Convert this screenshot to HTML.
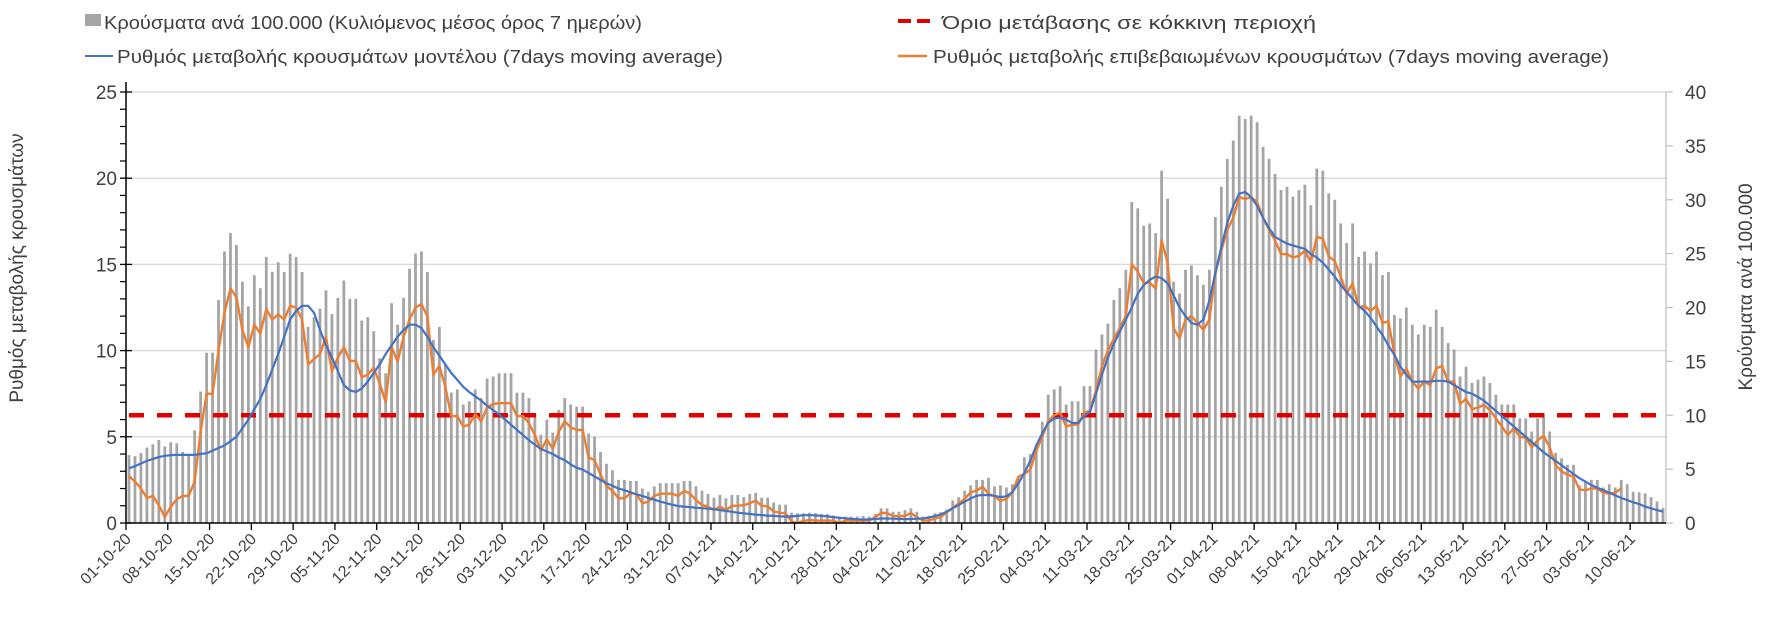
<!DOCTYPE html>
<html><head><meta charset="utf-8">
<style>
html,body{margin:0;padding:0;background:#fff;}
svg{display:block;font-family:"Liberation Sans","DejaVu Sans",sans-serif;}
</style></head>
<body>
<svg id="chart" width="1771" height="621" viewBox="0 0 1771 621" xmlns="http://www.w3.org/2000/svg">
<rect width="1771" height="621" fill="#fff"/>
<g id="grid"></g>
<g id="bars"></g>
<g id="lines"></g>
<g id="axes"></g>
<g id="legend">
  <g>
    <rect x="85" y="14" width="16" height="12" fill="#a5a5a5"/>
    <text x="104" y="29" font-size="18" fill="#404040" textLength="538" lengthAdjust="spacingAndGlyphs">Κρούσματα ανά 100.000 (Κυλιόμενος μέσος όρος 7 ημερών)</text>
  </g>
  <g>
    <line x1="898" y1="21" x2="936" y2="21" stroke="#e00000" stroke-width="4" stroke-dasharray="13,6"/>
    <text x="942" y="29" font-size="18" fill="#404040" textLength="374" lengthAdjust="spacingAndGlyphs">Όριο μετάβασης σε κόκκινη περιοχή</text>
  </g>
  <g>
    <line x1="85" y1="56" x2="113" y2="56" stroke="#4472c4" stroke-width="2"/>
    <text x="117" y="63" font-size="18" fill="#404040" textLength="606" lengthAdjust="spacingAndGlyphs">Ρυθμός μεταβολής κρουσμάτων μοντέλου (7days moving average)</text>
  </g>
  <g>
    <line x1="898" y1="56" x2="927" y2="56" stroke="#ed7d31" stroke-width="2.5"/>
    <text x="933" y="63" font-size="18" fill="#404040" textLength="676" lengthAdjust="spacingAndGlyphs">Ρυθμός μεταβολής επιβεβαιωμένων κρουσμάτων (7days moving average)</text>
  </g>
</g>
<text x="0" y="0" font-size="19" fill="#404040" text-anchor="middle" transform="translate(23,268) rotate(-90)">Ρυθμός μεταβολής κρουσμάτων</text>
<text x="0" y="0" font-size="19" fill="#404040" text-anchor="middle" transform="translate(1752,287) rotate(-90)">Κρούσματα ανά 100.000</text>
</svg>
<script>
// ---- data ----
const dateLabels = ["01-10-20","08-10-20","15-10-20","22-10-20","29-10-20","05-11-20","12-11-20","19-11-20","26-11-20","03-12-20","10-12-20","17-12-20","24-12-20","31-12-20","07-01-21","14-01-21","21-01-21","28-01-21","04-02-21","11-02-21","18-02-21","25-02-21","04-03-21","11-03-21","18-03-21","25-03-21","01-04-21","08-04-21","15-04-21","22-04-21","29-04-21","06-05-21","13-05-21","20-05-21","27-05-21","03-06-21","10-06-21"];
const leftTicks = [0,5,10,15,20,25];
const rightTicks = [0,5,10,15,20,25,30,35,40];
const threshold = 6.25;
const cases = [6.3,6.2,6.5,7.0,7.3,7.7,7.1,7.5,7.4,6.6,6.4,8.6,
12.2,15.8,15.8,20.7,25.2,26.9,25.8,22.4,20.1,23.0,21.8,24.7,23.3,24.2,23.3,25.0,24.7,23.3,18.2,19.1,19.9,21.6,19.4,20.9,22.5,
20.8,20.8,18.8,19.1,17.8,15.3,13.9,20.4,18.4,20.9,23.6,25.0,25.2,23.3,17.0,18.2,14.7,12.1,12.4,11.0,11.3,12.4,11.6,13.4,13.6,13.9,13.9,13.9,12.1,12.1,11.6,10.2,8.2,9.6,8.4,10.5,11.6,11.0,10.8,
10.8,8.3,8.0,6.6,5.5,4.9,4.0,4.0,3.9,3.9,3.2,2.9,3.4,3.7,3.7,3.7,3.7,3.9,3.9,3.4,3.0,2.7,2.35,2.6,2.3,2.6,2.6,2.4,2.7,2.8,2.35,2.35,1.9,1.7,1.7,0.96,0.9,0.9,0.96,
0.9,0.84,0.84,0.71,0.59,0.59,0.59,0.59,0.65,0.59,0.84,1.36,1.36,1.05,1.05,1.2,1.36,1.05,0.6,0.65,0.9,1.0,1.25,2.1,2.4,3.0,3.5,4.0,4.0,4.2,3.4,3.5,3.3,3.6,4.15,6.1,6.4,
7.2,9.4,11.9,12.4,12.7,11.0,11.3,11.3,12.7,12.7,16.1,17.5,18.5,20.7,21.8,23.5,29.8,29.2,27.6,27.8,26.9,
32.7,30.1,22.4,21.3,23.5,23.9,23.0,22.1,23.5,28.4,31.2,33.8,35.5,37.8,37.5,37.8,37.2,34.9,33.8,32.4,30.9,31.2,30.3,30.9,31.4,29.5,32.9,32.7,30.6,30.0,27.8,26.0,27.8,24.7,25.2,24.1,25.2,23.0,23.3,19.3,19.0,20.0,18.4,17.5,18.4,18.2,19.8,18.2,16.7,16.1,13.6,14.5,13.0,13.3,
13.6,13.0,11.9,11.0,11.0,11.0,9.7,9.7,8.5,9.7,10.2,8.5,6.5,6.0,5.4,5.4,3.5,3.8,4.0,4.0,3.3,3.6,3.3,4.0,3.6,2.9,2.85,2.75,2.4,2.0,1.4];
const confirmedRate = [2.73,2.4,2.0,1.45,1.57,1.04,0.35,0.95,1.37,1.57,1.57,2.4,
5.3,7.5,7.5,10.0,12.2,13.6,13.1,11.2,10.2,11.5,11.0,12.4,11.8,12.1,11.8,12.6,12.5,11.8,9.2,9.5,9.8,10.8,8.8,9.6,10.2,
9.4,9.4,8.45,8.6,9.0,8.1,7.0,10.2,9.36,10.8,11.8,12.5,12.7,12.0,8.6,9.1,7.9,6.2,6.2,5.6,5.7,6.3,5.9,6.7,6.9,6.95,6.95,6.95,6.2,6.2,5.8,5.1,4.2,4.85,4.3,5.3,5.9,5.55,5.4,
5.4,3.8,3.65,2.8,2.15,1.86,1.43,1.43,1.72,1.7,1.14,1.24,1.57,1.7,1.7,1.7,1.57,1.86,1.7,1.33,1.04,0.95,0.75,0.95,0.75,1.0,1.0,1.04,1.14,1.3,1.0,0.97,0.66,0.6,0.56,0.08,0.0,0.12,0.17,
0.14,0.14,0.14,0.14,0.0,0.14,0.14,0.14,0.14,0.14,0.34,0.58,0.58,0.4,0.4,0.4,0.58,0.34,0.14,0.14,0.26,0.34,0.62,0.87,1.14,1.4,1.78,1.88,2.1,1.7,1.55,1.28,1.4,1.78,2.69,2.84,3.1,
4.2,5.0,5.9,6.26,6.4,5.6,5.7,5.7,6.4,6.5,7.7,9.07,10.0,10.7,11.3,12.0,15.0,14.6,13.9,13.95,13.6,
16.4,15.1,11.3,10.7,11.8,12.0,11.6,11.2,11.8,14.5,15.8,17.0,17.7,18.9,18.8,18.9,18.6,17.7,17.0,16.4,15.6,15.6,15.4,15.5,15.8,15.1,16.6,16.5,15.45,15.2,14.3,13.3,13.9,12.5,12.6,12.3,12.6,11.6,11.7,9.8,8.5,8.97,8.2,7.8,8.2,8.0,8.97,9.1,8.2,8.2,6.9,7.2,6.6,6.7,
6.85,6.55,6.07,5.6,5.1,5.5,5.0,4.95,4.4,4.8,5.05,4.4,3.36,3.0,2.8,2.7,1.95,1.9,2.0,2.0,1.76,1.7,1.76,2.0];
const modelRate = [3.17,3.3,3.45,3.6,3.72,3.82,3.9,3.94,3.95,3.95,3.95,3.95,4.0,
4.05,4.2,4.35,4.5,4.75,5.0,5.5,6.0,6.6,7.2,8.0,8.9,9.8,10.8,11.8,12.3,12.6,12.6,12.2,11.2,10.3,9.6,8.8,8.0,
7.7,7.6,7.8,8.2,8.7,9.2,9.8,10.3,10.8,11.2,11.5,11.5,11.3,10.8,10.2,9.7,9.2,8.7,8.3,7.9,7.6,7.35,7.1,6.8,6.55,6.3,6.0,5.7,5.4,5.1,4.8,4.55,4.3,4.15,4.0,3.8,3.65,3.4,3.2,
3.1,2.9,2.7,2.5,2.3,2.15,2.0,1.9,1.78,1.67,1.57,1.45,1.35,1.24,1.15,1.06,0.98,0.95,0.92,0.89,0.86,0.83,0.8,0.75,0.7,0.65,0.6,0.56,0.52,0.49,0.46,0.43,0.41,0.39,0.37,0.38,0.41,0.45,0.45,
0.44,0.42,0.38,0.34,0.3,0.27,0.24,0.22,0.2,0.21,0.23,0.26,0.26,0.25,0.24,0.22,0.23,0.25,0.26,0.32,0.4,0.5,0.65,0.85,1.05,1.23,1.42,1.58,1.63,1.62,1.58,1.5,1.55,1.8,2.3,2.9,3.6,
4.5,5.2,5.8,6.07,6.1,6.0,5.8,5.8,6.2,6.45,7.5,8.6,9.6,10.4,11.1,11.8,12.5,13.3,13.8,14.1,14.3,
14.2,13.9,13.2,12.5,12.0,11.6,11.5,11.8,12.9,14.5,16.0,17.4,18.4,19.1,19.2,18.9,18.4,17.7,17.1,16.6,16.4,16.2,16.1,16.0,15.9,15.6,15.4,15.1,14.7,14.3,13.8,13.4,13.0,12.6,12.3,11.9,11.4,10.9,10.3,9.75,9.07,8.6,8.2,8.2,8.2,8.2,8.25,8.25,8.2,8.0,7.8,7.6,7.5,7.3,
7.1,6.8,6.5,6.2,5.9,5.6,5.3,5.0,4.7,4.4,4.1,3.85,3.6,3.36,3.1,2.85,2.6,2.4,2.2,2.05,1.9,1.75,1.6,1.45,1.33,1.2,1.1,0.95,0.85,0.75,0.66];

// ---- geometry ----
const NS = "http://www.w3.org/2000/svg";
const X0 = 126, X1 = 1666, Y0 = 523, YTOP = 92;
const nDays = cases.length;
const step = (X1 - X0) / nDays;
const xCenter = i => X0 + (i + 0.5) * step;
const yLeft = v => Y0 - v / 25 * (Y0 - YTOP);
const yRight = v => Y0 - v / 40 * (Y0 - YTOP);
function mk(tag, attrs, parent){ const e = document.createElementNS(NS, tag); for (const k in attrs) e.setAttribute(k, attrs[k]); parent.appendChild(e); return e; }

const grid = document.getElementById('grid');
const bars = document.getElementById('bars');
const lines = document.getElementById('lines');
const axes = document.getElementById('axes');

leftTicks.forEach(t => {
  const y = yLeft(t);
  if (t > 0) {
    const g = mk('line', {x1: X0, y1: y, x2: X1, y2: y, stroke: '#d9d9d9', 'stroke-width': 1.3}, grid);
    
    
  }
  const lbl = mk('text', {x: 117, y: y + 7, 'font-size': 19, fill: '#404040', 'text-anchor': 'end'}, axes);
  lbl.textContent = t;
  
  
  mk('line', {x1: X0 - 6, y1: y, x2: X0 + 6, y2: y, stroke: '#000', 'stroke-width': 1.3}, axes);
});
for (let v = 1; v < 25; v++) { if (v % 5) { const y = yLeft(v); mk('line', {x1: X0 - 6, y1: y, x2: X0, y2: y, stroke: '#000', 'stroke-width': 1.2}, axes); } }

rightTicks.forEach(t => {
  const y = yRight(t);
  const lbl = mk('text', {x: 1685, y: y + 7, 'font-size': 19, fill: '#404040'}, axes);
  lbl.textContent = t;
  
  
  mk('line', {x1: X1, y1: y, x2: X1 + 7, y2: y, stroke: '#bfbfbf', 'stroke-width': 1.2}, axes);
});
mk('line', {x1: X1, y1: YTOP, x2: X1, y2: Y0, stroke: '#bfbfbf', 'stroke-width': 1.2}, axes);

cases.forEach((v, i) => {
  const y = yRight(v);
  const r = mk('rect', {x: xCenter(i) - 1.4, y: y, width: 2.8, height: Y0 - y, fill: '#a5a5a5'}, bars);
  
  
});

const th = mk('line', {x1: X0 + 3, y1: yLeft(threshold), x2: X1 - 6, y2: yLeft(threshold), stroke: '#e00000', 'stroke-width': 4.5, 'stroke-dasharray': '15,13'}, lines);



function path(arr){ return arr.map((v, i) => (i ? 'L' : 'M') + xCenter(i).toFixed(1) + ' ' + yLeft(v).toFixed(1)).join(' '); }
const ol = mk('path', {d: path(confirmedRate), fill: 'none', stroke: '#ed7d31', 'stroke-width': 2.4, 'stroke-linejoin': 'round'}, lines);


const bl = mk('path', {d: path(modelRate), fill: 'none', stroke: '#4472c4', 'stroke-width': 2.2, 'stroke-linejoin': 'round'}, lines);



mk('line', {x1: X0, y1: YTOP - 10, x2: X0, y2: Y0, stroke: '#000', 'stroke-width': 1.5}, axes);
mk('line', {x1: X0, y1: Y0, x2: X1, y2: Y0, stroke: '#000', 'stroke-width': 1.5}, axes);

dateLabels.forEach((d, k) => {
  const x = X0 + k * 7 * step;
  mk('line', {x1: x, y1: Y0, x2: x, y2: Y0 + 7, stroke: '#000', 'stroke-width': 1.3}, axes);
  const t = mk('text', {x: 0, y: 0, 'font-size': 16, fill: '#404040', 'text-anchor': 'end', transform: 'translate(' + (x + 6) + ',' + (Y0 + 17) + ') rotate(-45)'}, axes);
  t.textContent = d;
  
  
});
</script>
</body></html>
